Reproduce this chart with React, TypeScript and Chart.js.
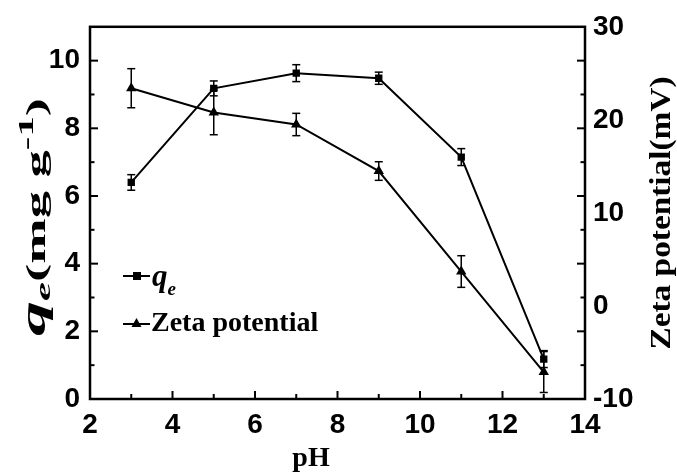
import React, { useEffect, useRef } from 'react';
import { Chart, registerables } from 'chart.js';

Chart.register(...registerables);

// Adsorption capacity and zeta potential against pH
const phValues = [3, 5, 7, 9, 11, 13];
const qeValues = [6.4, 9.18, 9.63, 9.48, 7.15, 1.18];
const qeErrors = [0.23, 0.22, 0.25, 0.18, 0.25, 0.25];
const zetaValues = [23.4, 20.8, 19.5, 14.5, 3.7, -7.1];
const zetaErrors = [2.1, 2.4, 1.2, 1.0, 1.7, 2.2];

const xTicks = [2, 4, 6, 8, 10, 12, 14];
const qeTicks = [0, 2, 4, 6, 8, 10];
const zetaTicks = [-10, 0, 10, 20, 30];

const SERIF = '"Liberation Serif", "Times New Roman", serif';
const SANS = '"Liberation Sans", Arial, sans-serif';

type Seg = { text: string; font: string; dy: number };

// Draws a run of differently styled pieces; an optional length stretches the run along its direction
function drawSegments(
  ctx: CanvasRenderingContext2D,
  segs: Seg[],
  x: number,
  y: number,
  align: 'left' | 'center',
  length?: number
) {
  ctx.textBaseline = 'alphabetic';
  ctx.textAlign = 'left';
  let total = 0;
  const widths = segs.map((s) => {
    ctx.font = s.font;
    const w = ctx.measureText(s.text).width;
    total += w;
    return w;
  });
  const sx = length ? length / total : 1;
  ctx.save();
  ctx.translate(x, y);
  ctx.scale(sx, 1);
  let cx = align === 'center' ? -total / 2 : 0;
  segs.forEach((s, i) => {
    ctx.font = s.font;
    ctx.fillText(s.text, cx, s.dy);
    cx += widths[i];
  });
  ctx.restore();
}

function line(ctx: CanvasRenderingContext2D, x1: number, y1: number, x2: number, y2: number) {
  ctx.beginPath();
  ctx.moveTo(x1, y1);
  ctx.lineTo(x2, y2);
  ctx.stroke();
}

const errorBars = {
  id: 'errorBars',
  beforeDatasetsDraw(chart: any) {
    const { ctx } = chart;
    const sets = [
      { err: qeErrors, vals: qeValues, scale: chart.scales.y },
      { err: zetaErrors, vals: zetaValues, scale: chart.scales.y2 },
    ];
    ctx.save();
    ctx.strokeStyle = '#000';
    ctx.lineWidth = 1.5;
    sets.forEach(({ err, vals, scale }) => {
      phValues.forEach((ph, i) => {
        const px = chart.scales.x.getPixelForValue(ph);
        const top = scale.getPixelForValue(vals[i] + err[i]);
        const bot = scale.getPixelForValue(vals[i] - err[i]);
        line(ctx, px, top, px, bot);
        line(ctx, px - 4, top, px + 4, top);
        line(ctx, px - 4, bot, px + 4, bot);
      });
    });
    ctx.restore();
  },
};

const frameAndText = {
  id: 'frameAndText',
  afterDraw(chart: any) {
    const { ctx, chartArea: a, scales } = chart;
    ctx.save();
    ctx.strokeStyle = '#000';
    ctx.fillStyle = '#000';
    ctx.lineWidth = 2.5;
    ctx.strokeRect(a.left, a.top, a.right - a.left, a.bottom - a.top);

    // inward tick marks
    ctx.lineWidth = 2;
    for (let v = 3; v <= 13; v++) {
      const px = scales.x.getPixelForValue(v);
      const len = v % 2 === 0 ? 8 : 5;
      line(ctx, px, a.bottom, px, a.bottom - len);
    }
    for (let v = 1; v <= 10; v++) {
      const py = scales.y.getPixelForValue(v);
      const len = v % 2 === 0 ? 8 : 4.5;
      line(ctx, a.left, py, a.left + len, py);
      line(ctx, a.right, py, a.right - len, py);
    }

    // x axis title
    ctx.textAlign = 'center';
    ctx.textBaseline = 'alphabetic';
    ctx.font = `bold 28px ${SERIF}`;
    ctx.fillText('pH', 311, 466);

    // left axis title
    ctx.save();
    ctx.translate(45, 217);
    ctx.rotate(-Math.PI / 2);
    drawSegments(
      ctx,
      [
        { text: 'q', font: `italic bold 36px ${SERIF}`, dy: 0 },
        { text: 'e', font: `italic bold 22px ${SERIF}`, dy: 5 },
        { text: '(mg g', font: `bold 28px ${SERIF}`, dy: 0 },
        { text: '-1', font: `bold 21px ${SERIF}`, dy: -12 },
        { text: ')', font: `bold 28px ${SERIF}`, dy: 0 },
      ],
      0,
      0,
      'center',
      238
    );
    ctx.restore();

    // right axis title
    ctx.save();
    ctx.translate(670, 213);
    ctx.rotate(-Math.PI / 2);
    drawSegments(ctx, [{ text: 'Zeta potential(mV)', font: `bold 30px ${SERIF}`, dy: 0 }], 0, 0, 'center', 273);
    ctx.restore();

    // legend
    ctx.lineWidth = 2;
    line(ctx, 123, 276, 150, 276);
    ctx.fillRect(133, 272, 8, 8);
    drawSegments(
      ctx,
      [
        { text: 'q', font: `italic bold 31px ${SERIF}`, dy: 0 },
        { text: 'e', font: `italic bold 19px ${SERIF}`, dy: 9 },
      ],
      152,
      286,
      'left'
    );
    line(ctx, 123, 324, 150, 324);
    ctx.beginPath();
    ctx.moveTo(136.5, 318);
    ctx.lineTo(141.5, 327);
    ctx.lineTo(131.5, 327);
    ctx.closePath();
    ctx.fill();
    drawSegments(ctx, [{ text: 'Zeta potential', font: `bold 28px ${SERIF}`, dy: 0 }], 151, 331, 'left');

    ctx.restore();
  },
};

export default function App() {
  const ref = useRef<HTMLCanvasElement>(null);

  useEffect(() => {
    if (!ref.current) return;
    const tickFont = { family: SANS, weight: 'bold' as const, size: 28 };
    const chart = new Chart(ref.current, {
      type: 'line',
      data: {
        datasets: [
          {
            label: 'qe',
            data: phValues.map((x, i) => ({ x, y: qeValues[i] })),
            yAxisID: 'y',
            borderColor: '#000',
            backgroundColor: '#000',
            borderWidth: 2,
            pointStyle: 'rect',
            pointRadius: 5.2,
            pointBorderWidth: 0,
            tension: 0,
          },
          {
            label: 'Zeta potential',
            data: phValues.map((x, i) => ({ x, y: zetaValues[i] })),
            yAxisID: 'y2',
            borderColor: '#000',
            backgroundColor: '#000',
            borderWidth: 2,
            pointStyle: 'triangle',
            pointRadius: 6,
            pointBorderWidth: 0,
            tension: 0,
          },
        ],
      },
      options: {
        responsive: false,
        animation: false,
        devicePixelRatio: 1,
        layout: { padding: { top: 26, left: 0, right: 0, bottom: 0 } },
        plugins: { legend: { display: false }, tooltip: { enabled: false } },
        scales: {
          x: {
            type: 'linear',
            min: 2,
            max: 14,
            afterBuildTicks: (s: any) => {
              s.ticks = xTicks.map((value) => ({ value }));
            },
            afterFit: (s: any) => {
              s.height = 73;
            },
            grid: { display: false, drawTicks: false },
            border: { display: false },
            ticks: { font: tickFont, color: '#000', padding: 9, maxRotation: 0, autoSkip: false },
          },
          y: {
            type: 'linear',
            position: 'left',
            min: 0,
            max: 11,
            afterBuildTicks: (s: any) => {
              s.ticks = qeTicks.map((value) => ({ value }));
            },
            afterFit: (s: any) => {
              s.width = 90;
            },
            grid: { display: false, drawTicks: false },
            border: { display: false },
            ticks: { font: tickFont, color: '#000', padding: 10, autoSkip: false },
          },
          y2: {
            type: 'linear',
            position: 'right',
            min: -10,
            max: 30,
            afterBuildTicks: (s: any) => {
              s.ticks = zetaTicks.map((value) => ({ value }));
            },
            afterFit: (s: any) => {
              s.width = 92;
            },
            grid: { display: false, drawTicks: false },
            border: { display: false },
            ticks: { font: tickFont, color: '#000', padding: 8, autoSkip: false },
          },
        },
      },
      plugins: [errorBars, frameAndText],
    });
    return () => chart.destroy();
  }, []);

  return (
    <div style={{ position: 'absolute', left: 0, top: 0, width: 677, height: 472, background: '#fff' }}>
      <canvas ref={ref} width={677} height={472} />
    </div>
  );
}
